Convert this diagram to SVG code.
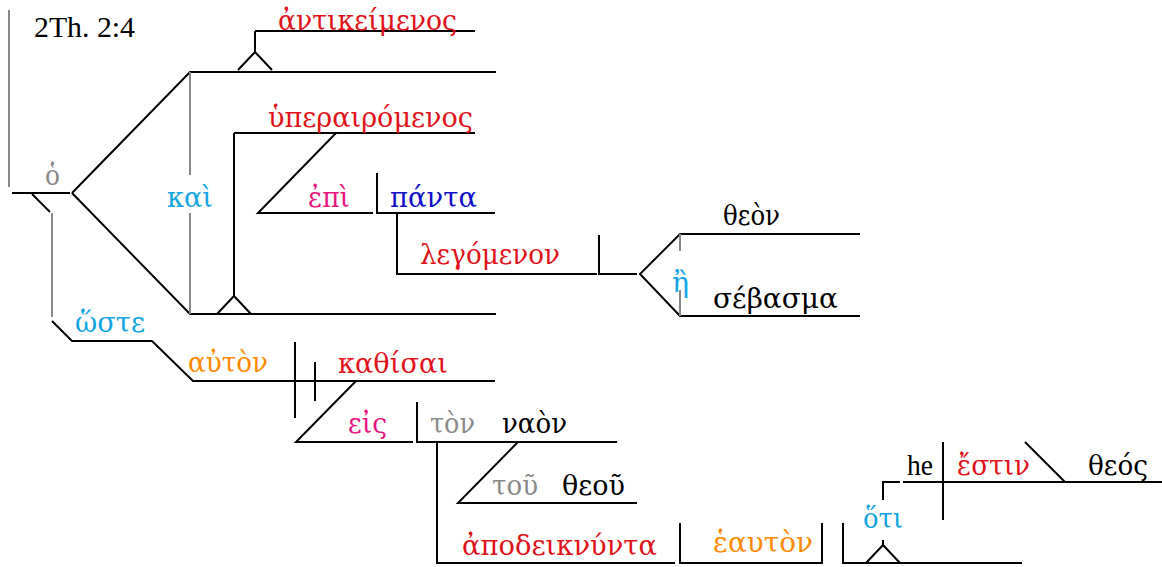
<svg xmlns="http://www.w3.org/2000/svg" width="1162" height="567" viewBox="0 0 1162 567">
<style>
text{font-family:"Liberation Serif","Times New Roman",serif;font-size:29px}
.gr{font-family:"DejaVu Serif","Liberation Serif",serif;font-size:27px}
.k{fill:#000}.r{fill:#e0131b}.c{fill:#12a6e3}.p{fill:#e8157f}.b{fill:#1010c8}.o{fill:#ff8a00}.g{fill:#8a8a8a}
.ln{stroke:#000;stroke-width:2;fill:none}
.gl{stroke:#888;stroke-width:2;fill:none}
</style>
<rect width="1162" height="567" fill="#fff"/>
<g id="connectors">
<path class="gl" d="M9,10V187"/>
<path class="ln" d="M12,193H70"/>
<path class="ln" d="M72,193L190,72H496"/>
<path class="ln" d="M72,193L190,314H496"/>
<path class="gl" d="M190,72V175M190,213V314"/>
<path class="ln" d="M255,31H475M255,31V52M238,70L255,52L272,70"/>
<path class="ln" d="M234,133H475M234,133V296M217,314L234,296L251,314"/>
<path class="ln" d="M336,133L258,213H373M377,173V213H495"/>
<path class="ln" d="M397,213V274H597M599,235V274H637"/>
<path class="ln" d="M860,234H680L640,274L680,316H860"/>
<path class="gl" d="M680,234V251M680,290V316"/>
<path class="ln" d="M32,194L50,212"/>
<path class="gl" d="M52,213V317"/>
<path class="ln" d="M52,321L72,341H152L193,381H295"/>
<path class="ln" d="M295,342V418M315,362V401M295,381H495"/>
<path class="ln" d="M356,381L296,442H413M417,402V442H617"/>
<path class="ln" d="M518,442L458,503H637"/>
<path class="ln" d="M437,442V563H675M680,523V563H822V523M843,523V563H1022"/>
<path class="ln" d="M866,563L883,545L900,563M883,545V540"/>
<path class="ln" d="M883,500V482H900M903,482H1162M943,442V520M1025,442L1065,482"/>
</g>
<g id="ref"><text class="k" x="34" y="37" textLength="101" lengthAdjust="spacingAndGlyphs">2Th. 2:4</text></g>
<g id="n-ho"><text class="gr g" x="45" y="185" textLength="15" lengthAdjust="spacingAndGlyphs">ὁ</text></g>
<g id="n-antikeimenos"><text class="gr r" x="278" y="30" textLength="179" lengthAdjust="spacingAndGlyphs">ἀντικείμενος</text></g>
<g id="n-kai"><text class="gr c" x="167" y="207" textLength="46" lengthAdjust="spacingAndGlyphs">καὶ</text></g>
<g id="n-hyperairomenos"><text class="gr r" x="268" y="127" textLength="205" lengthAdjust="spacingAndGlyphs">ὑπεραιρόμενος</text></g>
<g id="n-epi"><text class="gr p" x="308" y="207" textLength="42" lengthAdjust="spacingAndGlyphs">ἐπὶ</text></g>
<g id="n-panta"><text class="gr b" x="390" y="207" textLength="87" lengthAdjust="spacingAndGlyphs">πάντα</text></g>
<g id="n-legomenon"><text class="gr r" x="420" y="264" textLength="140" lengthAdjust="spacingAndGlyphs">λεγόμενον</text></g>
<g id="n-e"><text class="gr c" x="672" y="292" textLength="17" lengthAdjust="spacingAndGlyphs">ἢ</text></g>
<g id="n-theon"><text class="gr k" x="723" y="225" textLength="57" lengthAdjust="spacingAndGlyphs">θεὸν</text></g>
<g id="n-sebasma"><text class="gr k" x="713" y="308" textLength="125" lengthAdjust="spacingAndGlyphs">σέβασμα</text></g>
<g id="n-hoste"><text class="gr c" x="75" y="332" textLength="70" lengthAdjust="spacingAndGlyphs">ὥστε</text></g>
<g id="n-auton"><text class="gr o" x="188" y="372" textLength="80" lengthAdjust="spacingAndGlyphs">αὐτὸν</text></g>
<g id="n-kathisai"><text class="gr r" x="338" y="373" textLength="110" lengthAdjust="spacingAndGlyphs">καθίσαι</text></g>
<g id="n-eis"><text class="gr p" x="348" y="433" textLength="39" lengthAdjust="spacingAndGlyphs">εἰς</text></g>
<g id="n-naon"><text class="gr g" x="430" y="433" textLength="45" lengthAdjust="spacingAndGlyphs">τὸν</text><text class="gr k" x="502" y="433" textLength="65" lengthAdjust="spacingAndGlyphs">ναὸν</text></g>
<g id="n-theou"><text class="gr g" x="492" y="495" textLength="46" lengthAdjust="spacingAndGlyphs">τοῦ</text><text class="gr k" x="562" y="495" textLength="63" lengthAdjust="spacingAndGlyphs">θεοῦ</text></g>
<g id="n-apodeiknynta"><text class="gr r" x="462" y="555" textLength="195" lengthAdjust="spacingAndGlyphs">ἀποδεικνύντα</text></g>
<g id="n-heauton"><text class="gr o" x="713" y="552" textLength="100" lengthAdjust="spacingAndGlyphs">ἑαυτὸν</text></g>
<g id="n-hoti"><text class="gr c" x="863" y="528" textLength="40" lengthAdjust="spacingAndGlyphs">ὅτι</text></g>
<g id="n-he"><text class="k" x="907" y="475" textLength="26" lengthAdjust="spacingAndGlyphs">he</text></g>
<g id="n-estin"><text class="gr r" x="957" y="475" textLength="73" lengthAdjust="spacingAndGlyphs">ἔστιν</text></g>
<g id="n-theos"><text class="gr k" x="1088" y="475" textLength="60" lengthAdjust="spacingAndGlyphs">θεός</text></g>
</svg>
